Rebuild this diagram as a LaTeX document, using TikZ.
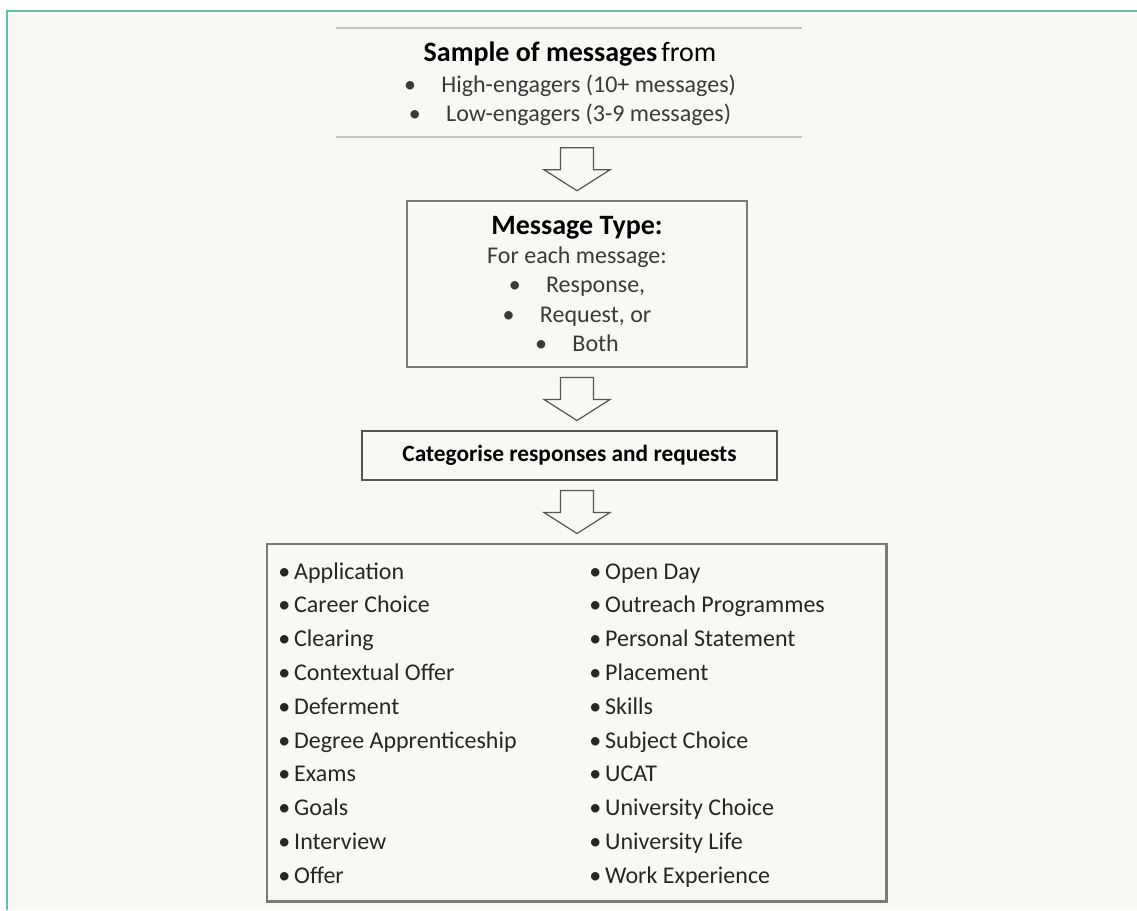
\documentclass[tikz,border=0pt]{standalone}
\usepackage{fontspec}
\setmainfont{Carlito}
\usetikzlibrary{calc}

\definecolor{paper}{HTML}{F8F8F4}
\definecolor{frameteal}{HTML}{62BFAA}
\definecolor{lightrule}{HTML}{C4C4C4}
\definecolor{boxgrey}{HTML}{7A7A7A}
\definecolor{darkgrey}{HTML}{555555}
\definecolor{inkgrey}{HTML}{3A3A3A}

\tikzset{
  downarrow/.pic={
    \draw[darkgrey, line width=0.9pt, fill=paper, line join=miter]
      (-16.5,-21.5) -- (16.5,-21.5) -- (16.5,0.5) -- (33,0.5) -- (0,21.5)
      -- (-33,0.5) -- (-16.5,0.5) -- cycle;
  }
}

\begin{document}
\begin{tikzpicture}[x=0.75pt,y=-0.75pt,
    box/.style={draw=boxgrey, line width=0.9pt, fill=paper, inner sep=0pt, align=center},
    head/.style={font=\fontsize{17.5}{22}\selectfont\bfseries, text=black},
    bodytext/.style={font=\fontsize{18}{22}\selectfont, text=inkgrey},
    item/.style={anchor=base west, inner sep=0pt, font=\fontsize{18}{22}\selectfont, text=black!85}]
  \useasboundingbox (0,0) rectangle (1137,910);
  \fill[white] (0,0) rectangle (1137,910);
  \fill[paper] (7,11) rectangle (1137,910);
  \draw[frameteal, line width=1.5pt] (7,910) -- (7,11) -- (1137,11);

  % sample box, only top and bottom rules show
  \node[box, draw=none, minimum width=349.5pt, minimum height=80.25pt, bodytext] (sample) at (570,84)
    {{\fontsize{21}{24}\selectfont\bfseries\color{black}Sample of messages}\,{\fontsize{21}{24}\selectfont\color{black}from}\\[1pt]
     \textbullet\hspace{19pt}High-engagers\ (10+ messages)\\
     \textbullet\hspace{19pt}Low-engagers\ (3-9 messages)};
  \draw[lightrule, line width=1.5pt] (sample.north west) ++(0,-1.5) -- ++(466,0);
  \draw[lightrule, line width=1.5pt] (sample.south west) ++(0,-1.5) -- ++(466,0);

  \node[box, minimum width=255pt, minimum height=124.5pt, bodytext] (type) at (577,284)
    {{\fontsize{21}{24}\selectfont\bfseries\color{black}Message Type:}\\
     For each message:\\
     \textbullet\hspace{19pt}Response,\\
     \textbullet\hspace{19pt}Request,\ or\\
     \textbullet\hspace{19pt}Both};

  \node[box, draw=darkgrey, minimum width=311.25pt, minimum height=36.75pt, head] (categorise) at (569.5,455.5)
    {Categorise responses and requests};

  \node[box, draw=boxgrey, minimum width=464.25pt, minimum height=267.75pt] (topics) at (576.5,722.5) {};
  \draw[boxgrey, line width=1.8pt] (topics.north east) -- (topics.south east) -- (topics.south west);

  \foreach \txt [count=\i from 0] in {Application, Career Choice, Clearing, Contextual Offer, Deferment,
      Degree Apprenticeship, Exams, Goals, Interview, Offer}
    \node[item] (left\i) at (278,579+33.8*\i) {\textbullet\hspace{3pt}\txt};
  \foreach \txt [count=\i from 0] in {Open Day, Outreach Programmes, Personal Statement, Placement, Skills,
      Subject Choice, UCAT, University Choice, University Life, Work Experience}
    \node[item] (right\i) at (589,579+33.8*\i) {\textbullet\hspace{3pt}\txt};

  % block arrows between the boxes
  \coordinate (gap1) at ($(sample.south)!0.5!(type.north)$);
  \coordinate (gap2) at ($(type.south)!0.5!(categorise.north)$);
  \coordinate (gap3) at ($(categorise.south)!0.5!(topics.north)$);
  \pic at (type.south |- gap1) {downarrow};
  \pic at (type.south |- gap2) {downarrow};
  \pic at (type.south |- gap3) {downarrow};
\end{tikzpicture}
\end{document}
